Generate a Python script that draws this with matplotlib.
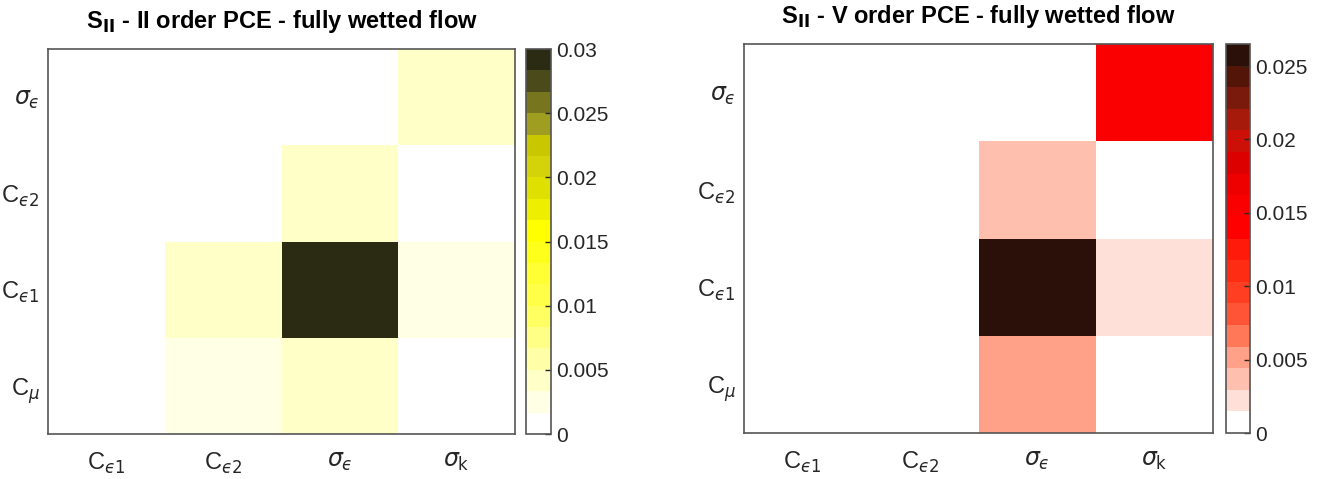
import matplotlib
matplotlib.use("Agg")
from matplotlib import pyplot as plt
from matplotlib.colors import ListedColormap
import numpy as np

plt.rcParams["font.family"] = ["Liberation Sans", "DejaVu Sans"]
plt.rcParams["mathtext.fontset"] = "dejavusans"

x_labels = ["C$_{\u03f5 1}$", "C$_{\u03f5 2}$", "$\\sigma_{\u03f5}$", "$\\sigma_{\\mathrm{k}}$"]
# rows from bottom to top
y_labels = ["C$_{\\mu}$", "C$_{\u03f5 1}$", "C$_{\u03f5 2}$", "$\\sigma_{\u03f5}$"]

# S_II, II order PCE (rows bottom -> top, cols C_e1, C_e2, sigma_e, sigma_k)
s2_order2 = [
    [0.0, 0.0025, 0.0042, 0.0],
    [0.0, 0.0042, 0.0300, 0.0025],
    [0.0, 0.0, 0.0042, 0.0],
    [0.0, 0.0, 0.0, 0.0042],
]
# S_II, V order PCE
s2_order5 = [
    [0.0, 0.0, 0.0051, 0.0],
    [0.0, 0.0, 0.0265, 0.0022],
    [0.0, 0.0, 0.0037, 0.0],
    [0.0, 0.0, 0.0, 0.0158],
]

yellow_colors = ["#ffffff", "#ffffe6", "#ffffc8", "#ffffa8", "#ffff86", "#ffff62",
                 "#ffff48", "#ffff34", "#ffff1c", "#ffff00", "#eeee00", "#e0e000",
                 "#d4d208", "#c9c800", "#a09e20", "#77761f", "#4b4a1a", "#2b2a12"]
red_colors = ["#ffffff", "#ffe0d8", "#ffbfae", "#ffa088", "#ff7858", "#ff5536",
              "#ff3e22", "#ff2c14", "#ff1a0a", "#ff0000", "#fa0000", "#ee0000",
              "#dc0000", "#cc1008", "#a61a0c", "#7a1a0c", "#521508", "#2a1008"]

panels = [
    dict(data=s2_order2, colors=yellow_colors, vmax=0.03,
         ticks=[0, 0.005, 0.01, 0.015, 0.02, 0.025, 0.03],
         ticklabels=["0", "0.005", "0.01", "0.015", "0.02", "0.025", "0.03"],
         title=r"S$_{\mathbf{II}}$ - II order PCE - fully wetted flow",
         ax=[0.0362, 0.0939, 0.3519, 0.8038], cax=[0.3964, 0.0939, 0.0188, 0.8038]),
    dict(data=s2_order5, colors=red_colors, vmax=0.0265,
         ticks=[0, 0.005, 0.01, 0.015, 0.02, 0.025],
         ticklabels=["0", "0.005", "0.01", "0.015", "0.02", "0.025"],
         title=r"S$_{\mathbf{II}}$ - V order PCE - fully wetted flow",
         ax=[0.5607, 0.0960, 0.3534, 0.8121], cax=[0.9239, 0.0960, 0.0181, 0.8121]),
]

fig = plt.figure(figsize=(13.27, 4.79), dpi=100)
txt = "#262626"

for p in panels:
    ax = fig.add_axes(p["ax"])
    cax = fig.add_axes(p["cax"])
    cmap = ListedColormap(p["colors"])
    mesh = ax.pcolormesh(np.array(p["data"]), cmap=cmap, vmin=0, vmax=p["vmax"])
    ax.set_xticks(np.arange(4) + 0.5)
    ax.set_xticklabels(x_labels)
    ax.set_yticks(np.arange(4) + 0.5)
    ax.set_yticklabels(y_labels)
    ax.tick_params(axis="x", length=0, labelsize=17, colors=txt, pad=12)
    ax.tick_params(axis="y", length=0, labelsize=17, colors=txt, pad=6)
    for s in ax.spines.values():
        s.set_color("#555555")
        s.set_linewidth(1.2)
    ax.set_title(p["title"], fontsize=17, fontweight="bold", pad=15)

    cb = fig.colorbar(mesh, cax=cax)
    cb.set_ticks(p["ticks"])
    cb.set_ticklabels(p["ticklabels"])
    cb.ax.tick_params(direction="in", length=4, labelsize=15, colors=txt, width=1)
    cb.outline.set_edgecolor("#555555")
    cb.outline.set_linewidth(1.2)

fig.savefig("out.png", dpi=100)
